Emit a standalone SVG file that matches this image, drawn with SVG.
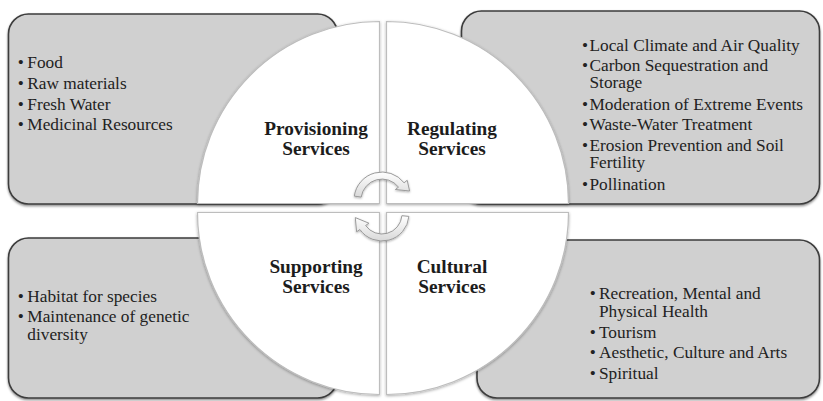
<svg xmlns="http://www.w3.org/2000/svg" width="823" height="401" viewBox="0 0 823 401">
  <style>
    .box { fill: #d0d0d0; stroke: #3c3c3c; stroke-width: 1.6; filter: url(#boxShadow); }
    .quad { fill: #ffffff; stroke: #bdbdbd; stroke-width: 1.2; filter: url(#quadShadow); }
    .item { font-family: "Liberation Serif", "Times New Roman", serif; font-size: 17.3px; fill: #222222; }
    .dot { font-family: "Liberation Serif", "Times New Roman", serif; font-size: 17.3px; fill: #222222; text-anchor: middle; }
    .title { font-family: "Liberation Serif", "Times New Roman", serif; font-size: 19.3px; font-weight: bold; fill: #1c1c1c; text-anchor: middle; }
    .cycle { fill: url(#arrowFill); stroke: #9a9a9a; stroke-width: 1; filter: url(#arrowShadow); }
  </style>
  <defs>
    <filter id="boxShadow" x="-5%" y="-5%" width="110%" height="115%">
      <feDropShadow dx="0" dy="1.5" stdDeviation="1" flood-color="#000" flood-opacity="0.45"/>
    </filter>
    <filter id="quadShadow" x="-5%" y="-5%" width="110%" height="110%">
      <feDropShadow dx="0" dy="1" stdDeviation="1.4" flood-color="#000" flood-opacity="0.35"/>
    </filter>
    <filter id="arrowShadow" x="-20%" y="-20%" width="140%" height="140%">
      <feDropShadow dx="0" dy="1" stdDeviation="0.8" flood-color="#000" flood-opacity="0.3"/>
    </filter>
    <linearGradient id="arrowFill" x1="0" y1="0" x2="0" y2="1">
      <stop offset="0" stop-color="#ffffff"/>
      <stop offset="1" stop-color="#d9d9d9"/>
    </linearGradient>
  </defs>

  <!-- outer detail boxes -->
  <g id="provisioning-box">
    <rect class="box" x="8.5" y="14" width="329" height="190" rx="20" ry="20"/>
    <text class="dot" x="20.7" y="68">•</text><text class="item" x="27.3" y="68">Food</text>
    <text class="dot" x="20.7" y="89">•</text><text class="item" x="27.3" y="89">Raw materials</text>
    <text class="dot" x="20.7" y="110">•</text><text class="item" x="27.3" y="110">Fresh Water</text>
    <text class="dot" x="20.7" y="130">•</text><text class="item" x="27.3" y="130">Medicinal Resources</text>
  </g>

  <g id="regulating-box">
    <rect class="box" x="461.5" y="11" width="358" height="193" rx="20" ry="20"/>
    <text class="dot" x="585" y="50.5">•</text><text class="item" x="589.5" y="50.5">Local Climate and Air Quality</text>
    <text class="dot" x="585" y="70.5">•</text><text class="item" x="589.5" y="70.5">Carbon Sequestration and</text>
    <text class="item" x="589.5" y="88">Storage</text>
    <text class="dot" x="585" y="110">•</text><text class="item" x="589.5" y="110">Moderation of Extreme Events</text>
    <text class="dot" x="585" y="130">•</text><text class="item" x="589.5" y="130">Waste-Water Treatment</text>
    <text class="dot" x="585" y="150.5">•</text><text class="item" x="589.5" y="150.5">Erosion Prevention and Soil</text>
    <text class="item" x="589.5" y="168">Fertility</text>
    <text class="dot" x="585" y="190">•</text><text class="item" x="589.5" y="190">Pollination</text>
  </g>

  <g id="supporting-box">
    <rect class="box" x="8.5" y="238" width="329" height="160" rx="20" ry="20"/>
    <text class="dot" x="20.7" y="301.5">•</text><text class="item" x="27.3" y="301.5">Habitat for species</text>
    <text class="dot" x="20.7" y="322">•</text><text class="item" x="27.3" y="322">Maintenance of genetic</text>
    <text class="item" x="27.3" y="340">diversity</text>
  </g>

  <g id="cultural-box">
    <rect class="box" x="477" y="240" width="342.5" height="158" rx="20" ry="20"/>
    <text class="dot" x="592.7" y="299">•</text><text class="item" x="599" y="299">Recreation, Mental and</text>
    <text class="item" x="599" y="317">Physical Health</text>
    <text class="dot" x="592.7" y="338">•</text><text class="item" x="599" y="338">Tourism</text>
    <text class="dot" x="592.7" y="358">•</text><text class="item" x="599" y="358">Aesthetic, Culture and Arts</text>
    <text class="dot" x="592.7" y="379">•</text><text class="item" x="599" y="379">Spiritual</text>
  </g>

  <!-- central circle split into four quadrants -->
  <g id="provisioning">
    <path class="quad" d="M379.5,203.5 L379.5,21.5 A182,182 0 0 0 197.5,203.5 Z"/>
    <text class="title" x="316" y="135">Provisioning</text>
    <text class="title" x="316" y="154.5">Services</text>
  </g>
  <g id="regulating">
    <path class="quad" d="M386.5,203.5 L386.5,21.5 A182,182 0 0 1 568.5,203.5 Z"/>
    <text class="title" x="452" y="135">Regulating</text>
    <text class="title" x="452" y="155">Services</text>
  </g>
  <g id="supporting">
    <path class="quad" d="M379.5,212.5 L197.5,212.5 A182,182 0 0 0 379.5,394.5 Z"/>
    <text class="title" x="316" y="273">Supporting</text>
    <text class="title" x="316" y="293">Services</text>
  </g>
  <g id="cultural">
    <path class="quad" d="M386.5,212.5 L568.5,212.5 A182,182 0 0 1 386.5,394.5 Z"/>
    <text class="title" x="452" y="273">Cultural</text>
    <text class="title" x="452" y="293">Services</text>
  </g>

  <!-- circular arrows linking the quadrants -->
  <g id="connectors">
    <path class="cycle" d="M354.3,196.1 A28,28 0 0 1 404.1,182.8 L407.2,180.3 L409.6,191 L395.4,189.5 L398.5,187.1 A21,21 0 0 0 361.2,197.1 Z"/>
    <path class="cycle" d="M408.9,216.4 A27,27 0 0 1 359.9,229.5 L356.6,231.8 L355.3,217.6 L368.9,223.2 L365.6,225.5 A20,20 0 0 0 401.9,215.7 Z"/>
  </g>
</svg>
